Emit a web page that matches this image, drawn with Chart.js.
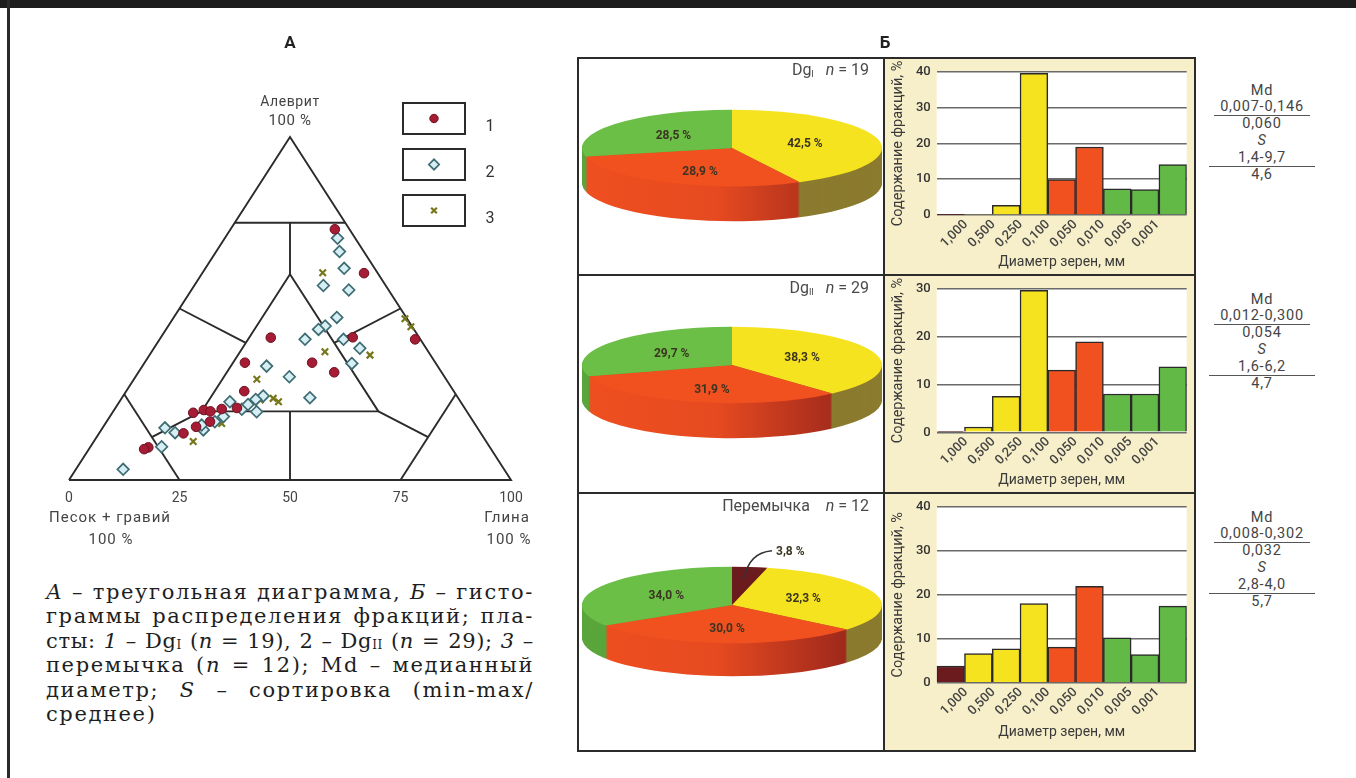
<!DOCTYPE html>
<html><head><meta charset="utf-8">
<script src="https://cdn.jsdelivr.net/npm/chart.js@4.4.1/dist/chart.umd.min.js"></script>
<style>
html,body{margin:0;padding:0;background:#fff;}
body{width:1356px;height:778px;position:relative;overflow:hidden;font-family:Roboto,"Open Sans",sans-serif;color:#333;}
canvas{position:absolute;}
.abs{position:absolute;}
.ln{position:absolute;background:#2b2b2b;z-index:5;}
.ttl{position:absolute;font-weight:bold;font-size:17px;color:#222;transform:translate(-50%,-50%);}
.hdr{position:absolute;font-size:16px;color:#4a4a4a;white-space:pre;z-index:6;text-align:right;}
.hdr sub{font-size:9px;vertical-align:-2px;}
.md{position:absolute;width:130px;text-align:center;font-size:14.5px;letter-spacing:0.8px;color:#444;line-height:16.8px;}
.md div{height:16.8px;}
.md .u1{width:96px;margin:0 auto;border-bottom:1.5px solid #555;height:15.8px;}
.md .u2{width:106px;margin:0 auto;border-bottom:1.5px solid #555;height:15.8px;}
.cap{position:absolute;left:46px;width:488px;font-family:"DejaVu Serif",serif;font-size:21px;color:#1e1e1e;}
.cap div{height:24.4px;line-height:24.4px;white-space:nowrap;text-align:justify;text-align-last:justify;}
.cap div.last{text-align-last:left;}
.cap sub{font-size:12px;vertical-align:-1px;}
</style></head><body>
<div class="abs" style="left:0;top:0;width:1356px;height:8px;background:#1d1d1d;"></div>
<div class="abs" style="left:7px;top:0;width:2.5px;height:778px;background:#2a2a2a;"></div>

<canvas id="tern" width="540" height="540" style="left:20px;top:20px;width:540px;height:540px;"></canvas>

<canvas id="h1" width="312" height="217" style="left:884px;top:58px;"></canvas>
<canvas id="h2" width="312" height="218" style="left:884px;top:275px;"></canvas>
<canvas id="h3" width="312" height="259" style="left:884px;top:493px;"></canvas>

<canvas id="p1" width="310" height="310" style="left:577px;top:-6.7px;"></canvas>
<canvas id="p2" width="310" height="310" style="left:577px;top:210px;"></canvas>
<canvas id="p3" width="310" height="310" style="left:577px;top:450px;"></canvas>

<div class="abs" style="left:577px;top:57px;width:619px;height:695px;border:2px solid #2b2b2b;box-sizing:border-box;z-index:5;"></div>
<div class="ln" style="left:883px;top:57px;width:2px;height:695px;"></div>
<div class="ln" style="left:577px;top:274px;width:619px;height:2px;"></div>
<div class="ln" style="left:577px;top:492px;width:619px;height:2px;"></div>

<div class="ttl" style="left:290px;top:42px;">А</div>
<div class="ttl" style="left:885px;top:42px;">Б</div>

<div id="hdrs"></div>
<div id="mds"></div>
<div class="cap" id="cap" style="top:580px;">
<div><i>А</i> – треугольная диаграмма, <i>Б</i> – гисто-</div>
<div>граммы распределения фракций; пла-</div>
<div>сты: <i>1</i> – Dg<sub>I</sub> (<i>n</i> = 19), 2 – Dg<sub>II</sub> (<i>n</i> = 29); <i>3</i> –</div>
<div>перемычка (<i>n</i> = 12); Md – медианный</div>
<div>диаметр; <i>S</i> – сортировка (min-max/</div>
<div class="last">среднее)</div>
</div>

<script>
// ---------------- DATA ----------------
// Ternary diagram: silt % and clay % per sample (sand = 100 - silt - clay)
const dg1Silt = [73.1,60.3,41.6,41.0,41.5,34.2,34.2,31.4,25.9,19.6,20.4,20.7,13.6,9.5,17.0,15.5,21.0,20.0,9.0];
const dg1Clay = [23.6,36.6,43.4,57.8,24.9,22.7,37.9,44.3,26.7,18.3,20.3,24.2,19.1,13.2,23.4,21.0,27.5,22.0,12.5];
const dg2Silt = [70.5,66.6,61.7,56.7,55.4,47.4,44.9,43.9,41.0,41.0,38.4,34.0,33.2,30.1,24.0,24.5,22.8,19.9,20.6,18.5,14.6,13.8,15.2,9.7,3.1,17.0,23.5,16.0,22.0];
const dg2Clay = [25.5,27.9,31.4,29.2,35.6,36.9,35.5,34.5,32.9,41.6,46.6,47.0,28.1,34.8,42.5,31.7,25.0,32.5,28.8,25.7,23.1,17.1,14.1,16.1,10.7,24.5,30.5,22.0,29.5];
const perSilt = [60.4,44.7,36.4,37.4,29.4,22.8,23.8,23.3,16.5,11.2,47.0,20.0];
const perClay = [27.2,55.0,49.9,39.2,27.8,36.0,34.3,31.6,26.3,22.5,52.5,21.5];
const ternTicks = [0,25,50,75,100];
// classification lines (sand, silt, clay)
const classLines = [
  [[100,0,0],[0,0,100],[0,100,0],[100,0,0]],
  [[25,75,0],[0,75,25]],
  [[75,25,0],[75,0,25]],
  [[25,0,75],[0,25,75]],
  [[60,20,20],[20,20,60],[20,60,20],[60,20,20]],
  [[20,60,20],[12.5,75,12.5]],
  [[50,50,0],[40,40,20]],
  [[0,50,50],[20,40,40]],
  [[50,0,50],[40,20,40]],
  [[60,20,20],[75,12.5,12.5]],
  [[20,20,60],[12.5,12.5,75]]
];
const seriesNames = ['1','2','3'];

// Histograms: 9 grain-size bins
const sieveLabels = ['1,000','0,500','0,250','0,100','0,050','0,010','0,005','0,001'];
const binNames = ['>1,000','1,000–0,500','0,500–0,250','0,250–0,100','0,100–0,050','0,050–0,010','0,010–0,005','0,005–0,001','<0,001'];
const histDg1 = [0.1,0.2,2.7,39.6,9.9,19.0,7.3,7.1,14.1];
const histDg2 = [0.1,1.1,7.5,29.7,13.0,18.9,8.0,8.0,13.7];
const histPer = [3.8,6.6,7.7,18.0,8.1,21.9,10.2,6.4,17.4];
const histMax = [40,30,40];

// Pies: gravel, sand, silt, clay
const pieNames = ['Гравий','Песок','Алеврит','Глина'];
const pieDg1 = [0,42.5,28.9,28.5];
const pieDg2 = [0,38.3,31.9,29.7];
const piePer = [3.8,32.3,30.0,34.0];

const layerNames = ['Dg<sub>I</sub>','Dg<sub>II</sub>','Перемычка'];
const layerN = [19,29,12];
const mdRange = ['0,007-0,146','0,012-0,300','0,008-0,302'];
const mdMean = ['0,060','0,054','0,032'];
const sRange = ['1,4-9,7','1,6-6,2','2,8-4,0'];
const sMean = ['4,6','4,7','5,7'];

// ---------------- STYLE ----------------
const C_BROWN='#6b1b1e', C_YEL='#f6e31f', C_RED='#f1501f', C_GRN='#62b946';
const binColors=[C_BROWN,C_YEL,C_YEL,C_YEL,C_RED,C_RED,C_GRN,C_GRN,C_GRN];
const pieColors=[C_BROWN,C_YEL,C_RED,'#6cbf46'];
const pieSides=['#561517','#8b7b2f',['#ef4f20','#e64a20','#8a1f1a'],'#5aa63c'];

Chart.defaults.font.family = 'Roboto, "Open Sans", sans-serif';
Chart.defaults.animation = false;

// ---------------- TERNARY ----------------
const tern = (sand, silt, clay) => ({x: clay + silt/2, y: silt});
const samples = (silt, clay) => silt.map((s,i)=>tern(100-s-clay[i], s, clay[i]));
const markerStyles = [
  {pointStyle:'circle', radius:4.8, backgroundColor:'#a51c34', borderColor:'#6d1020', borderWidth:1},
  {pointStyle:'rectRot', radius:5.8, backgroundColor:'#d5eff4', borderColor:'#3f6b73', borderWidth:1.7},
  {pointStyle:'crossRot', radius:4.6, backgroundColor:'#76761a', borderColor:'#76761a', borderWidth:2.2}
];
const ptData=[samples(dg1Silt,dg1Clay), samples(dg2Silt,dg2Clay), samples(perSilt,perClay)];
const ternDatasets = ptData.map((d,i)=>({
  label: seriesNames[i], data:d, pointStyle:markerStyles[i].pointStyle, pointRadius:markerStyles[i].radius,
  pointBackgroundColor:markerStyles[i].backgroundColor, pointBorderColor:markerStyles[i].borderColor,
  pointBorderWidth:markerStyles[i].borderWidth, showLine:false, clip:false, order:i
}));
classLines.forEach(seg=>ternDatasets.push({
  data: seg.map(p=>tern(p[0],p[1],p[2])), showLine:true, borderColor:'#2b2b2b', borderWidth:1.9,
  pointRadius:0, clip:false, order:10, borderJoinStyle:'miter'
}));

const ternDecor = {
  id:'ternDecor',
  afterDraw(chart){
    const {ctx, scales:{x,y}} = chart;
    ctx.save();
    ctx.fillStyle='#444'; ctx.textAlign='center'; ctx.textBaseline='middle';
    ctx.letterSpacing='0.6px';
    const ax=x.getPixelForValue(50), ay=y.getPixelForValue(100);
    ctx.font='14px Roboto'; ctx.fillText('Алеврит', ax, ay-35);
    ctx.font='15px Roboto'; ctx.fillText('100 %', ax, ay-16);
    const by=y.getPixelForValue(0), lx=x.getPixelForValue(0), rx=x.getPixelForValue(100);
    ctx.letterSpacing='1px';
    ctx.font='15px Roboto'; ctx.fillText('Песок + гравий', lx+41, by+38);
    ctx.font='15px Roboto'; ctx.fillText('100 %', lx+42, by+60);
    ctx.font='15px Roboto'; ctx.fillText('Глина', rx-4, by+38);
    ctx.font='15px Roboto'; ctx.fillText('100 %', rx-2, by+60);
    ctx.letterSpacing='0px';
    // legend
    for(let i=0;i<3;i++){
      const bx=383, bt=83+i*46;
      ctx.strokeStyle='#2b2b2b'; ctx.lineWidth=2; ctx.strokeRect(bx,bt,62,31);
      const m=markerStyles[i];
      ctx.fillStyle=m.backgroundColor; ctx.strokeStyle=m.borderColor; ctx.lineWidth=m.borderWidth;
      Chart.helpers.drawPoint(ctx,{pointStyle:m.pointStyle, radius:m.radius-0.6, borderWidth:m.borderWidth, rotation:0}, bx+31, bt+15.5);
      ctx.fillStyle='#333'; ctx.font='16px Roboto'; ctx.textAlign='center';
      ctx.fillText(seriesNames[i], 470, bt+24);
    }
    ctx.restore();
  }
};

new Chart(document.getElementById('tern'), {
  type:'scatter',
  data:{datasets:ternDatasets},
  options:{
    responsive:false, events:[],
    layout:{padding:{left:49,right:49,top:117,bottom:40}},
    plugins:{legend:{display:false}, tooltip:{enabled:false}},
    scales:{
      x:{type:'linear', min:0, max:100, grid:{display:false, drawTicks:false}, border:{display:false},
         ticks:{stepSize:25, padding:10, color:'#444', font:{size:14}, callback:v=>ternTicks.includes(v)?String(v):''},
         afterFit:s=>{s.height=40;}},
      y:{type:'linear', min:0, max:100, display:false}
    }
  },
  plugins:[ternDecor]
});

// ---------------- HISTOGRAMS ----------------
const histBg = {
  id:'histBg',
  beforeDraw(chart){
    const {ctx, chartArea:a} = chart;
    ctx.save();
    ctx.fillStyle='#f7efca'; ctx.fillRect(0,0,chart.width,chart.height);
    ctx.fillStyle='#ffffff'; ctx.fillRect(a.left,a.top,a.right-a.left,a.bottom-a.top);
    ctx.restore();
  }
};
function makeHist(id, values, yMax, g){
  new Chart(document.getElementById(id), {
    type:'bar',
    data:{labels:binNames, datasets:[{data:values, backgroundColor:binColors, borderColor:'#2a2a2a', borderWidth:1.5,
      barPercentage:1, categoryPercentage:1, xAxisID:'x', yAxisID:'y'}]},
    options:{
      responsive:false, events:[],
      layout:{padding:{left:g.pl, right:g.pr, top:g.pt, bottom:g.pb}},
      plugins:{legend:{display:false}, tooltip:{enabled:false}},
      scales:{
        x:{type:'category', display:false, offset:true},
        xb:{type:'linear', position:'bottom', min:0.5, max:sieveLabels.length+0.5, grid:{display:false, drawTicks:false}, border:{display:false},
            afterBuildTicks:s=>{s.ticks=sieveLabels.map((_,i)=>({value:i+1}));},
            ticks:{autoSkip:false, minRotation:45, maxRotation:45, padding:2, color:'#444', font:{size:13, weight:'500'},
                   callback:v=>sieveLabels[Math.round(v)-1]||''},
            title:{display:true, text:'Диаметр зерен, мм', color:'#3a3a3a', font:{size:14}, padding:{top:0,bottom:3}},
            afterFit:s=>{s.height=g.xh;}},
        y:{min:0, max:yMax, ticks:{stepSize:10, color:'#333', font:{size:13, weight:'500'}, padding:6},
           grid:{color:'#6a6a6a', lineWidth:1.6, drawTicks:false}, border:{display:false},
           title:{display:true, text:'Содержание фракций, %', color:'#3a3a3a', font:{size:14.5}, padding:{top:3,bottom:3}},
           afterFit:s=>{s.width=g.yw;}}
      }
    },
    plugins:[histBg]
  });
}
makeHist('h1', histDg1, histMax[0], {pl:2.7, yw:50, pr:9.3, pt:9.7, xh:58.6, pb:1.4});
makeHist('h2', histDg2, histMax[1], {pl:2.7, yw:50, pr:9.3, pt:10, xh:59.3, pb:1.4});
makeHist('h3', histPer, histMax[2], {pl:2.7, yw:50, pr:9.3, pt:11, xh:60.9, pb:8.4});

// ---------------- 3D PIES ----------------
const fmtPct = v => v.toFixed(1).replace('.',',') + ' %';
function sideFill(ctx, s, cx, r){
  if(typeof s==='string') return s;
  const gr=ctx.createLinearGradient(cx-r,0,cx+r,0);
  gr.addColorStop(0,s[0]); gr.addColorStop(0.45,s[1]); gr.addColorStop(1,s[2]);
  return gr;
}
const pie3d = {
  id:'pie3d',
  beforeDatasetsDraw(chart, args, o){
    const ctx=chart.ctx, arcs=chart.getDatasetMeta(0).data;
    const cx=arcs[0].x, cy=arcs[0].y, r=arcs[0].outerRadius;
    for(let t=o.depth;t>=1;t--){
      ctx.save();
      ctx.translate(0,cy+t); ctx.scale(1,o.k); ctx.translate(0,-cy);
      arcs.forEach((a,i)=>{
        if(a.endAngle-a.startAngle<=0) return;
        ctx.beginPath(); ctx.moveTo(a.x,a.y); ctx.arc(a.x,a.y,a.outerRadius,a.startAngle,a.endAngle); ctx.closePath();
        ctx.fillStyle=sideFill(ctx,o.sides[i],cx,r); ctx.fill();
      });
      ctx.restore();
    }
    ctx.save();
    ctx.translate(0,cy); ctx.scale(1,o.k); ctx.translate(0,-cy);
  },
  afterDatasetsDraw(chart, args, o){
    const ctx=chart.ctx; ctx.restore();
    const arcs=chart.getDatasetMeta(0).data, vals=chart.data.datasets[0].data;
    const cx=arcs[0].x, cy=arcs[0].y, r=arcs[0].outerRadius;
    ctx.save();
    ctx.font='bold 12px Roboto'; ctx.fillStyle='#3a3422'; ctx.textAlign='center'; ctx.textBaseline='middle';
    arcs.forEach((a,i)=>{
      if(vals[i]<=0) return;
      if(vals[i]<8){
        const mid=(a.startAngle+a.endAngle)/2;
        const px=cx+Math.cos(mid)*r*0.7, py=cy+Math.sin(mid)*r*0.7*o.k;
        const qx=cx+40, qy=cy-r*o.k-16;
        ctx.strokeStyle='#333'; ctx.lineWidth=1.6;
        ctx.beginPath(); ctx.moveTo(px,py); ctx.quadraticCurveTo(px+4,qy+2,qx,qy); ctx.stroke();
        ctx.textAlign='left'; ctx.fillText(fmtPct(vals[i]), qx+4, qy+1); ctx.textAlign='center';
        return;
      }
      const p=a.tooltipPosition();
      ctx.fillText(fmtPct(vals[i]), p.x, cy+(p.y-cy)*o.k + (o.dy?o.dy[i]:0));
    });
    ctx.restore();
  }
};
function makePie(id, values, depth, dy){
  new Chart(document.getElementById(id), {
    type:'pie',
    data:{labels:pieNames, datasets:[{data:values, backgroundColor:pieColors, borderWidth:0, clip:false}]},
    options:{responsive:false, events:[], rotation:0, layout:{padding:5},
      plugins:{legend:{display:false}, tooltip:{enabled:false}, pie3d:{k:0.255, depth:depth, sides:pieSides, dy:dy}}},
    plugins:[pie3d]
  });
}
makePie('p1', pieDg1, 35, [0,0,7,0]);
makePie('p2', pieDg2, 35, [0,0,7,0]);
makePie('p3', piePer, 33, [0,0,5,0]);

// ---------------- TEXT BLOCKS ----------------
const hdrY=[70,288,506];
let hh='';
for(let i=0;i<3;i++){
  hh+=`<div class="hdr" style="right:${1356-869}px;top:${hdrY[i]-10}px;">${layerNames[i]}${i===2?'    ':'   '}<i>n</i> = ${layerN[i]}</div>`;
}
document.getElementById('hdrs').innerHTML=hh;
const mdY=[91,300,518];
let mh='';
for(let i=0;i<3;i++){
  mh+=`<div class="md" style="left:1197px;top:${mdY[i]-8.4}px;">
   <div>Md</div><div class="u1">${mdRange[i]}</div><div>${mdMean[i]}</div>
   <div><i>S</i></div><div class="u2">${sRange[i]}</div><div>${sMean[i]}</div></div>`;
}
document.getElementById('mds').innerHTML=mh;

// caption: letter spacing so each line fills the column like the original
(function(){
  const lines=[...document.querySelectorAll('#cap div')];
  const probe=document.createElement('span');
  probe.style.cssText='position:absolute;visibility:hidden;white-space:nowrap;font-family:"DejaVu Serif",serif;font-size:21px;';
  document.body.appendChild(probe);
  const nat = lines.map(l=>{probe.innerHTML=l.innerHTML; return probe.getBoundingClientRect().width;});
  document.body.removeChild(probe);
  const n1=lines[1].textContent.length;
  let ls=Math.max(0,(482-nat[1])/n1);
  lines.forEach((l,i)=>{
    const n=l.textContent.length;
    const lsi=Math.max(0,Math.min(ls,(486-nat[i])/n));
    l.style.letterSpacing=lsi+'px';
  });
})();
</script>
</body></html>
